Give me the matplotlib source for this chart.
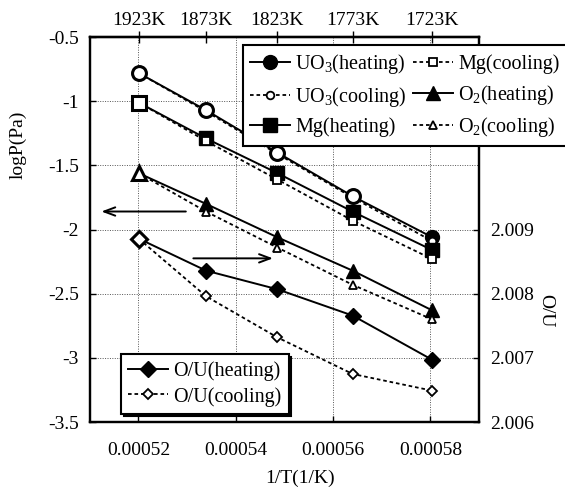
import numpy as np
import matplotlib
matplotlib.use("Agg")
import matplotlib.pyplot as plt

plt.rcParams['font.family'] = ['Liberation Serif', 'DejaVu Serif']
plt.rcParams['mathtext.fontset'] = 'custom'
plt.rcParams['mathtext.rm'] = 'Liberation Serif'
plt.rcParams['mathtext.it'] = 'Liberation Serif:italic'

# temperatures of the measurements
temps_K = [1923, 1873, 1823, 1773, 1723]
temp_labels = ["1923K", "1873K", "1823K", "1773K", "1723K"]

# logP(Pa) values
uo3_heating = [-0.78, -1.07, -1.40, -1.74, -2.06]
uo3_cooling = [-0.78, -1.08, -1.41, -1.75, -2.09]
mg_heating = [-1.01, -1.29, -1.56, -1.86, -2.16]
mg_cooling = [-1.01, -1.31, -1.61, -1.93, -2.23]
o2_heating = [-1.56, -1.80, -2.06, -2.32, -2.63]
o2_cooling = [-1.56, -1.86, -2.14, -2.43, -2.70]

# O/U ratio (right axis)
ou_heating = [2.00886, 2.00836, 2.00807, 2.00766, 2.00697]
ou_cooling = [2.00886, 2.00796, 2.00732, 2.00675, 2.00649]

x_ticks = [0.00052, 0.00054, 0.00056, 0.00058]
x_tick_labels = ["0.00052", "0.00054", "0.00056", "0.00058"]
left_ticks = [-3.5, -3, -2.5, -2, -1.5, -1, -0.5]
left_tick_labels = ["-3.5", "-3", "-2.5", "-2", "-1.5", "-1", "-0.5"]
right_ticks = [2.006, 2.007, 2.008, 2.009]

inv_T = 1.0 / np.array(temps_K, dtype=float)

FS = 14
LFS = 14.5
solid = dict(color='black', lw=1.4, ls='-')
dotted = dict(color='black', lw=1.3, ls=(0, (2, 1.6)))

fig = plt.figure(figsize=(5.65, 4.88), dpi=100)
ax = fig.add_axes([0.159, 0.135, 0.689, 0.789])
ax2 = ax.twinx()


def draw_pair(axis, heat, cool, marker, big, small, open_idx):
    h, = axis.plot(inv_T, heat, marker=marker, ms=big, mfc='black', mec='black', **solid)
    c, = axis.plot(inv_T, cool, marker=marker, ms=small, mfc='white', mec='black', mew=1.3, **dotted)
    # some heating points are drawn open in the original
    idx = list(open_idx)
    axis.plot(inv_T[idx], np.array(heat)[idx], ls='none', marker=marker, ms=big,
              mfc='white', mec='black', mew=2.2)
    return h, c


h_uo3, c_uo3 = draw_pair(ax, uo3_heating, uo3_cooling, 'o', 10, 5.5, [0, 1, 2, 3])
h_mg, c_mg = draw_pair(ax, mg_heating, mg_cooling, 's', 9.5, 6, [0])
h_o2, c_o2 = draw_pair(ax, o2_heating, o2_cooling, '^', 10, 6, [0])
h_ou, c_ou = draw_pair(ax2, ou_heating, ou_cooling, 'D', 8.5, 5, [0])

ax.set_xlim(0.00051, 0.00059)
ax.set_ylim(-3.5, -0.5)
ax2.set_ylim(2.006, 2.012)

ax.set_xticks(x_ticks)
ax.set_xticklabels(x_tick_labels, fontsize=FS)
ax.set_yticks(left_ticks)
ax.set_yticklabels(left_tick_labels, fontsize=FS)
ax2.set_yticks(right_ticks)
ax2.set_yticklabels([f"{v:.3f}" for v in right_ticks], fontsize=FS)

ax.grid(True, color='#555555', ls=(0, (1, 1.5)), lw=0.7)
ax.tick_params(direction='in', length=4, width=1, pad=14)
ax.tick_params(axis='y', pad=8)
ax2.tick_params(direction='in', length=4, width=1, pad=8)

top = ax.secondary_xaxis('top')
top.set_xticks(inv_T)
top.set_xticklabels(temp_labels, fontsize=FS)
top.tick_params(direction='inout', length=8, width=1, pad=2)

for a in (ax, ax2):
    for s in a.spines.values():
        s.set_linewidth(1.6)
for s in top.spines.values():
    s.set_linewidth(1.6)

ax.set_xlabel("1/T(1/K)", fontsize=FS, va='center')
ax.xaxis.set_label_coords(0.54, -0.145)
ax.set_ylabel("logP(Pa)", fontsize=FS, va='center')
ax.yaxis.set_label_coords(-0.185, 0.72)
ax2.set_ylabel("O/U", fontsize=FS, rotation=270, va='center')
ax2.yaxis.set_label_coords(1.17, 0.29)

# arrows pointing to the relevant axis
ax.annotate("", xy=(0.0005118, -1.859), xytext=(0.0005303, -1.859),
            arrowprops=dict(arrowstyle='->,head_length=0.8,head_width=0.3', color='black', lw=1.4))
ax.annotate("", xy=(0.0005482, -2.224), xytext=(0.0005307, -2.224),
            arrowprops=dict(arrowstyle='->,head_length=0.8,head_width=0.3', color='black', lw=1.4))

leg1 = ax2.legend([h_uo3, c_uo3, h_mg, c_mg, h_o2, c_o2],
                  ["UO$_3$(heating)", "UO$_3$(cooling)", "Mg(heating)",
                   "Mg(cooling)", "O$_2$(heating)", "O$_2$(cooling)"],
                  ncol=2, loc='upper left', bbox_to_anchor=(0.393, 0.979),
                  fontsize=LFS, fancybox=False, framealpha=1, edgecolor='black',
                  handlelength=2.0, handletextpad=0.25, columnspacing=0.3,
                  labelspacing=0.42, borderpad=0.35, borderaxespad=0)
leg1.get_frame().set_linewidth(1.5)
leg1.set_zorder(10)
ax2.add_artist(leg1)

leg2 = ax2.legend([h_ou, c_ou], ["O/U(heating)", "O/U(cooling)"],
                  loc='upper left', bbox_to_anchor=(0.080, 0.177),
                  fontsize=LFS, fancybox=False, framealpha=1, edgecolor='black',
                  handlelength=2.0, handletextpad=0.25, labelspacing=0.3,
                  borderpad=0.35, borderaxespad=0,
                  shadow={'color': 'black', 'alpha': 1, 'ox': 2, 'oy': -2})
leg2.get_frame().set_linewidth(1.5)
leg2.set_zorder(10)

fig.savefig("out.png", dpi=100)
